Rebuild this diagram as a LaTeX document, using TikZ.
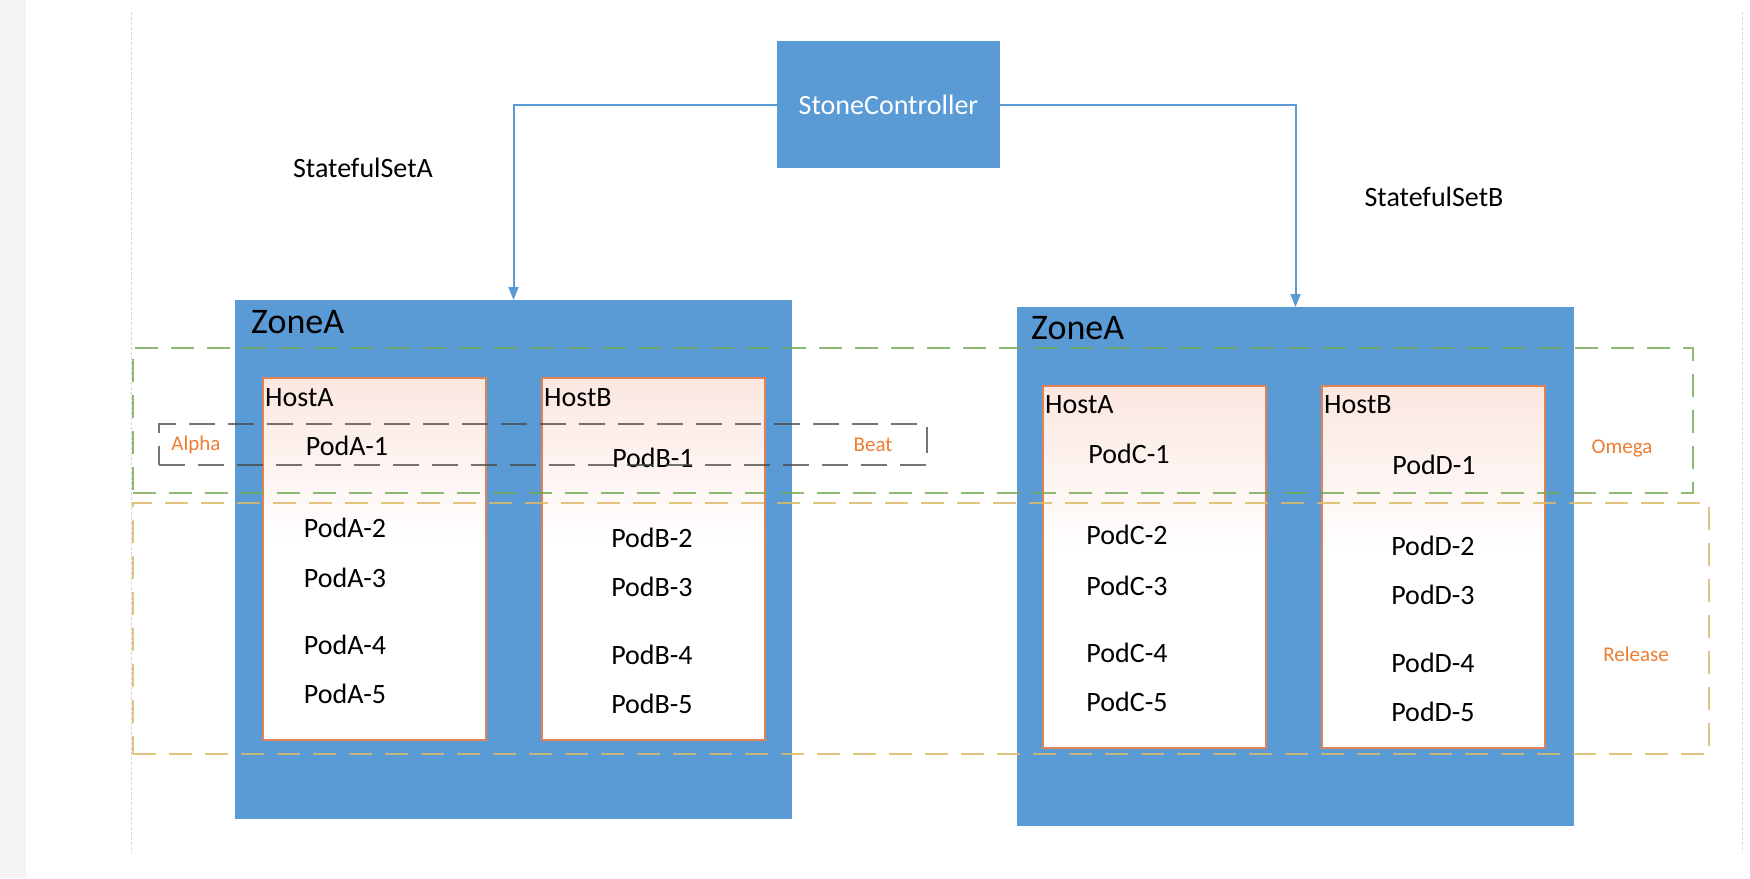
\documentclass[tikz,border=0pt]{standalone}
\usepackage{fontspec}
\setmainfont{Carlito}
\usetikzlibrary{arrows.meta}

\definecolor{zoneblue}{RGB}{91,155,213}
\definecolor{hostline}{RGB}{225,130,85}
\definecolor{hostpink}{RGB}{251,231,224}
\definecolor{omegagreen}{RGB}{112,168,80}
\definecolor{releasegold}{RGB}{220,186,105}
\definecolor{groupgray}{RGB}{70,70,70}
\definecolor{tagorange}{RGB}{237,125,49}
\definecolor{stripgray}{RGB}{244,244,244}
\definecolor{guidegray}{RGB}{215,215,215}
\pgfdeclareverticalshading{hostfade}{100bp}{color(0bp)=(white); color(52bp)=(white); color(75bp)=(hostpink); color(100bp)=(hostpink)}

\begin{document}
\begin{tikzpicture}[x=1pt,y=-1pt]
				\tikzset{ctrl/.style = {shape=rectangle, fill=zoneblue, text=white, inner sep=0pt, minimum width=223pt, minimum height=127pt, font=\fontsize{28}{32}\selectfont}}
				\tikzset{zone/.style = {shape=rectangle, fill=zoneblue, inner sep=0pt, outer sep=0pt, anchor=north west, minimum width=557pt, minimum height=519pt}}
				\tikzset{host/.style = {shape=rectangle, draw=hostline, line width=1.5pt, shading=hostfade, inner sep=0pt, anchor=north west, minimum width=223pt, minimum height=362pt}}
				\tikzset{txt/.style = {inner sep=0pt, font=\fontsize{28}{32}\selectfont}}
				\tikzset{zonetxt/.style = {inner sep=0pt, anchor=base west, font=\fontsize{36}{40}\selectfont}}
				\tikzset{tag/.style = {inner sep=0pt, text=tagorange, font=\fontsize{21}{24}\selectfont}}
				\tikzset{group/.style = {shape=rectangle, inner sep=0pt, anchor=north west, line width=2pt, dash pattern=on 23pt off 13pt}}
				\tikzset{flow/.style = {draw=zoneblue, line width=2pt, -{Triangle[length=13pt,width=10pt]}}}
				
				\useasboundingbox (0,0) rectangle (1750,878);
				\fill[stripgray] (0,0) rectangle (26,878);
				\draw[guidegray, line width=1pt, densely dashed] (131,12) -- (131,853);
				\draw[guidegray, line width=1pt, densely dashed] (1742,12) -- (1742,853);
				
				\node[ctrl] (CTRL) at (888.5,104.5) {StoneController};
				\node[txt] (SETA) at (363,168) {StatefulSetA};
				\node[txt] (SETB) at (1434,197) {StatefulSetB};
				
				\node[zone] (ZONEL) at (235,300) {};
				\node[zone] (ZONER) at (1017,307) {};
				\node[zonetxt] (ZONELTXT) at (251,333) {ZoneA};
				\node[zonetxt] (ZONERTXT) at (1031,339) {ZoneA};
				
				\draw[flow] (CTRL.west) -| (ZONEL.north);
				\draw[flow] (CTRL.east) -| (ZONER.north);
				
				\node[host] (HOSTLA) at (262,377) {};
				\node[host] (HOSTLB) at (541,377) {};
				\node[host] (HOSTRA) at (1042,385) {};
				\node[host] (HOSTRB) at (1321,385) {};
				\node[txt, anchor=base west] (HOSTLATXT) at (265,406) {HostA};
				\node[txt, anchor=base west] (HOSTLBTXT) at (544,406) {HostB};
				\node[txt, anchor=base west] (HOSTRATXT) at (1045,413) {HostA};
				\node[txt, anchor=base west] (HOSTRBTXT) at (1324,413) {HostB};
				
				\foreach \t/\x/\y in {PodA-1/347/455, PodA-2/345/537, PodA-3/345/587, PodA-4/345/654, PodA-5/345/703,
					PodB-1/653/467, PodB-2/652/547, PodB-3/652/596, PodB-4/652/664, PodB-5/652/713,
					PodC-1/1129/463, PodC-2/1127/544, PodC-3/1127/595, PodC-4/1127/662, PodC-5/1127/711,
					PodD-1/1434/474, PodD-2/1433/555, PodD-3/1433/604, PodD-4/1433/672, PodD-5/1433/721}
				\node[txt, anchor=base] (\t) at (\x,\y) {\t};
				
				\node[group, draw=omegagreen, draw opacity=0.8, minimum width=1560pt, minimum height=145pt] (OMEGA) at (132,347) {};
				\node[group, draw=releasegold, draw opacity=0.85, minimum width=1576pt, minimum height=251pt] (RELEASE) at (132,502) {};
				\node[group, draw=groupgray, draw opacity=0.75, dash pattern=on 26pt off 13pt, minimum width=768pt, minimum height=41pt] (ALPHABEAT) at (158,423) {};
				
				\node[tag] (ALPHA) at (196,445) {Alpha};
				\node[tag] (BEAT) at (873,445) {Beat};
				\node[tag] (OMEGATXT) at (1622,448) {Omega};
				\node[tag] (RELEASETXT) at (1636,654) {Release};
				
				\end{tikzpicture}
\end{document}
